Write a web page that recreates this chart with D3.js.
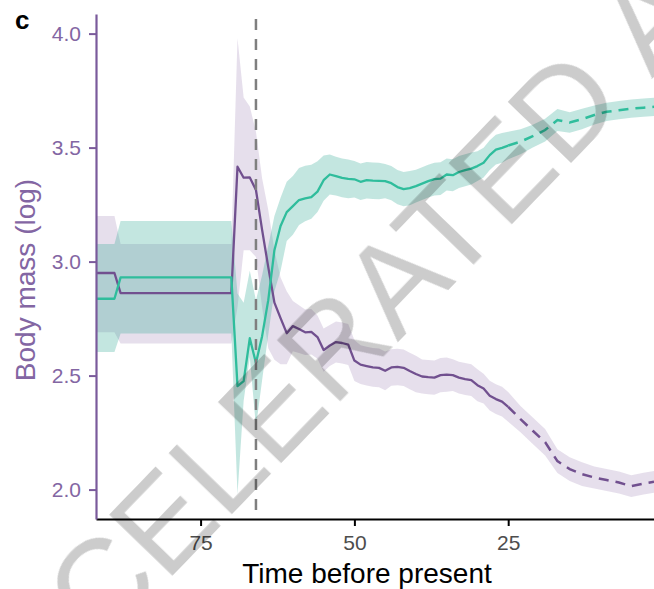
<!DOCTYPE html>
<html>
<head>
<meta charset="utf-8">
<script src="https://cdn.jsdelivr.net/npm/d3@7"></script>
<style>
  body { margin: 0; background: #fff; }
  svg { display: block; font-family: "Liberation Sans", Arial, Helvetica, sans-serif; }
</style>
</head>
<body>
<svg width="654" height="589"></svg>
<script>
// time before present (Myr)
const time = [92, 89, 88, 70,
  69, 68, 67, 66, 65, 64, 63, 62, 61, 60,
  59, 58, 57, 56, 55, 54, 53, 52, 51, 50,
  49, 48, 47, 46, 45, 44, 43, 42, 41, 40,
  39, 38, 37, 36, 35, 34, 33, 32, 31, 30,
  29, 28, 27, 26, 25,
  23, 21, 19, 17, 15, 13, 11, 9, 7, 5, 3, 1.3];

// purple series: mean and ribbon
const purpleMean = [2.95, 2.95, 2.862, 2.862,
  3.416, 3.368, 3.369, 3.314, 3.139, 2.976, 2.820, 2.752, 2.686, 2.717,
  2.704, 2.690, 2.692, 2.669, 2.612, 2.632, 2.647, 2.643, 2.636, 2.566,
  2.548, 2.542, 2.536, 2.534, 2.521, 2.536, 2.538, 2.534, 2.520, 2.507,
  2.496, 2.493, 2.491, 2.502, 2.504, 2.502, 2.491, 2.485, 2.480, 2.458,
  2.443, 2.412, 2.397, 2.386, 2.363,
  2.309, 2.258, 2.208, 2.125, 2.090, 2.068, 2.053, 2.042, 2.031, 2.015, 2.026, 2.034];
const purpleLo = [2.69, 2.69, 2.641, 2.641,
  2.80, 3.05, 3.05, 3.02, 2.80, 2.62, 2.57, 2.55, 2.55, 2.607,
  2.599, 2.59, 2.592, 2.574, 2.517, 2.542, 2.557, 2.553, 2.546, 2.476,
  2.463, 2.457, 2.451, 2.449, 2.436, 2.456, 2.458, 2.454, 2.440, 2.427,
  2.421, 2.418, 2.416, 2.427, 2.429, 2.432, 2.421, 2.415, 2.410, 2.388,
  2.378, 2.347, 2.332, 2.321, 2.298,
  2.251, 2.200, 2.150, 2.073, 2.038, 2.016, 2.005, 1.994, 1.983, 1.967, 1.978, 1.986];
const purpleHi = [3.20, 3.20, 3.077, 3.077,
  3.98, 3.72, 3.68, 3.57, 3.366, 3.226, 3.05, 2.93, 2.87, 2.827,
  2.809, 2.79, 2.792, 2.764, 2.707, 2.722, 2.737, 2.733, 2.726, 2.656,
  2.633, 2.627, 2.621, 2.619, 2.606, 2.616, 2.618, 2.614, 2.600, 2.587,
  2.571, 2.568, 2.566, 2.577, 2.579, 2.572, 2.561, 2.555, 2.550, 2.528,
  2.508, 2.477, 2.462, 2.451, 2.428,
  2.367, 2.316, 2.266, 2.177, 2.142, 2.120, 2.101, 2.090, 2.079, 2.063, 2.074, 2.082];

// teal series: mean and ribbon
const tealMean = [2.837, 2.837, 2.931, 2.931,
  2.454, 2.476, 2.664, 2.555, 2.673, 2.831, 3.05, 3.156, 3.217, 3.243,
  3.270, 3.277, 3.283, 3.307, 3.357, 3.382, 3.375, 3.367, 3.363, 3.361,
  3.350, 3.357, 3.355, 3.354, 3.353, 3.344, 3.327, 3.318, 3.322, 3.331,
  3.342, 3.353, 3.362, 3.364, 3.382, 3.379, 3.393, 3.401, 3.408, 3.419,
  3.434, 3.467, 3.491, 3.499, 3.509,
  3.526, 3.550, 3.577, 3.621, 3.610, 3.625, 3.643, 3.657, 3.664, 3.671, 3.675, 3.679];
const tealLo = [2.604, 2.604, 2.685, 2.685,
  1.98, 2.39, 2.58, 2.275, 2.48, 2.68, 2.87, 2.96, 3.09, 3.118,
  3.16, 3.177, 3.188, 3.217, 3.267, 3.294, 3.29, 3.282, 3.278, 3.281,
  3.27, 3.277, 3.275, 3.274, 3.278, 3.269, 3.252, 3.243, 3.247, 3.259,
  3.270, 3.281, 3.290, 3.292, 3.312, 3.309, 3.323, 3.331, 3.338, 3.354,
  3.369, 3.402, 3.426, 3.434, 3.449,
  3.471, 3.50, 3.527, 3.573, 3.565, 3.58, 3.601, 3.617, 3.624, 3.631, 3.635, 3.639];
const tealHi = [3.077, 3.077, 3.178, 3.178,
  2.86, 2.82, 2.96, 2.83, 2.94, 3.07, 3.20, 3.28, 3.35, 3.375,
  3.41, 3.42, 3.425, 3.44, 3.465, 3.470, 3.46, 3.452, 3.448, 3.441,
  3.43, 3.437, 3.435, 3.434, 3.428, 3.419, 3.402, 3.393, 3.397, 3.403,
  3.414, 3.425, 3.434, 3.436, 3.452, 3.449, 3.463, 3.471, 3.478, 3.484,
  3.499, 3.532, 3.556, 3.564, 3.569,
  3.581, 3.60, 3.627, 3.669, 3.655, 3.67, 3.685, 3.697, 3.704, 3.711, 3.715, 3.719];

const xTicks = [75, 50, 25];
const yTicks = [2.0, 2.5, 3.0, 3.5, 4.0];
const boundary = 66;     // dashed vertical line
const dashFrom = 25;     // series become dashed from here on

const purple = '#7a5a9b';
const purpleLine = '#71508f';
const teal = '#2fbd9c';

const svg = d3.select('svg');
const plotLeft = 96, plotRight = 654, plotTop = 14, plotBottom = 519;

const xScale = d3.scaleLinear().domain([92, 1.3]).range([plotLeft, plotRight]);
const yScale = d3.scaleLinear().domain([1.871, 4.086]).range([plotBottom, plotTop]);

const idx = d3.range(time.length);
const solidIdx = idx.filter(i => time[i] >= dashFrom);
const dashIdx = idx.filter(i => time[i] <= dashFrom);

function band(lo, hi) {
  return d3.area()
    .x(i => xScale(time[i]))
    .y0(i => yScale(lo[i]))
    .y1(i => yScale(hi[i]));
}
function meanLine(mean) {
  return d3.line()
    .x(i => xScale(time[i]))
    .y(i => yScale(mean[i]));
}

// ribbons
svg.append('path')
  .attr('d', band(purpleLo, purpleHi)(idx))
  .attr('fill', 'rgb(117,80,150)')
  .attr('fill-opacity', 0.18);
svg.append('path')
  .attr('d', band(tealLo, tealHi)(idx))
  .attr('fill', 'rgb(40,165,145)')
  .attr('fill-opacity', 0.28);

// mean lines, solid then dashed
[[purpleMean, purpleLine], [tealMean, teal]].forEach(([mean, col]) => {
  svg.append('path')
    .attr('d', meanLine(mean)(solidIdx))
    .attr('fill', 'none')
    .attr('stroke', col)
    .attr('stroke-width', 2.3)
    .attr('stroke-linejoin', 'round');
  svg.append('path')
    .attr('d', meanLine(mean)(dashIdx))
    .attr('fill', 'none')
    .attr('stroke', col)
    .attr('stroke-width', 2.5)
    .attr('stroke-dasharray', '10,7');
});

// boundary line
svg.append('line')
  .attr('x1', xScale(boundary)).attr('x2', xScale(boundary))
  .attr('y1', 19).attr('y2', plotBottom)
  .attr('stroke', '#7f7f7f')
  .attr('stroke-width', 2.5)
  .attr('stroke-dasharray', '11,9');

// axes
const xAxis = d3.axisBottom(xScale)
  .tickValues(xTicks)
  .tickSize(7)
  .tickSizeOuter(0)
  .tickPadding(9)
  .tickFormat(d3.format('d'));
const yAxis = d3.axisLeft(yScale)
  .tickValues(yTicks)
  .tickSize(7)
  .tickSizeOuter(0)
  .tickPadding(8)
  .tickFormat(d3.format('.1f'));

const gx = svg.append('g')
  .attr('transform', `translate(0, ${plotBottom})`)
  .call(xAxis);
gx.select('.domain').attr('stroke', '#000').attr('stroke-width', 2.2);
gx.selectAll('.tick line').attr('stroke', '#000').attr('stroke-width', 2);
gx.selectAll('.tick text')
  .attr('fill', '#4d4d4d')
  .style('font-size', '21px')
  .style('font-family', '"Liberation Sans", Arial, sans-serif');

const gy = svg.append('g')
  .attr('transform', `translate(${plotLeft}, 0)`)
  .call(yAxis);
gy.select('.domain').attr('stroke', purple).attr('stroke-width', 2.2);
gy.selectAll('.tick line').attr('stroke', purple).attr('stroke-width', 2);
gy.selectAll('.tick text')
  .attr('fill', '#8366a3')
  .style('font-size', '21px')
  .style('font-family', '"Liberation Sans", Arial, sans-serif');

// titles
svg.append('text')
  .attr('x', 367)
  .attr('y', 583)
  .attr('text-anchor', 'middle')
  .style('font-size', '28px')
  .attr('fill', '#000')
  .text('Time before present');

svg.append('text')
  .attr('transform', 'translate(35, 280) rotate(-90)')
  .attr('text-anchor', 'middle')
  .style('font-size', '28px')
  .attr('fill', '#8366a3')
  .text('Body mass (log)');

svg.append('text')
  .attr('x', 15)
  .attr('y', 29)
  .style('font-size', '26px')
  .style('font-weight', 'bold')
  .text('c');

// watermark
const wm = svg.append('g')
  .attr('opacity', 0.2)
  .attr('fill', '#000')
  .style('font-size', '128px');
wm.append('text')
  .attr('transform', 'translate(628, 104) rotate(-46)')
  .attr('text-anchor', 'end')
  .text('ACCELERATED');
wm.append('text')
  .attr('transform', 'translate(652, 79) rotate(-46)')
  .attr('text-anchor', 'start')
  .text('ARTICLE PREVIEW');
</script>
</body>
</html>
